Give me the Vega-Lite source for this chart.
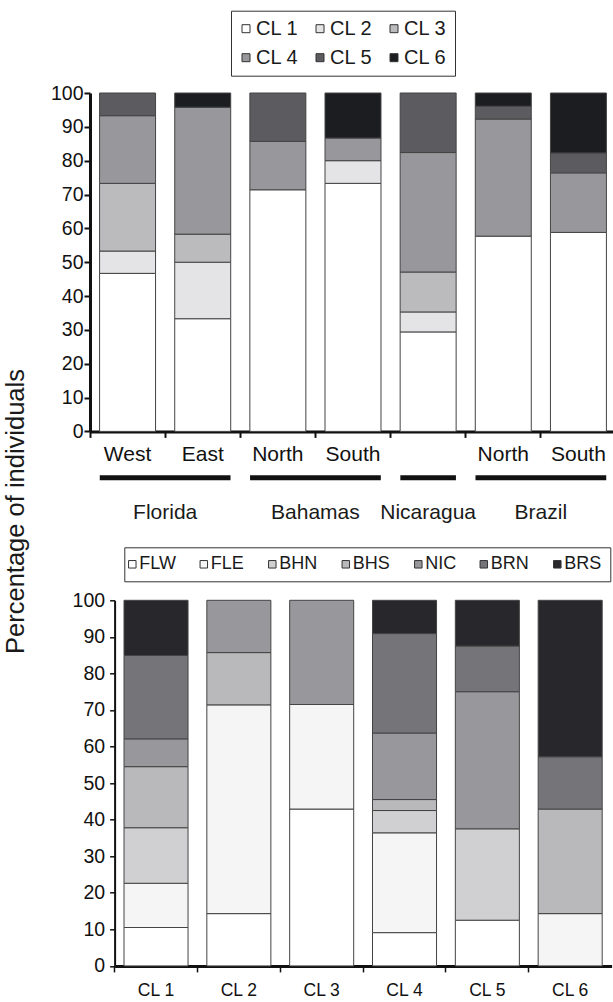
{
  "$schema": "https://vega.github.io/schema/vega-lite/v6.json",
  "padding": {"left": 3, "top": 10, "right": 0, "bottom": 0},
  "background": "white",
  "bounds": "flush",
  "spacing": 168.3,
  "config": {
    "font": "Liberation Sans",
    "view": {"stroke": null},
    "axis": {"grid": false, "domainColor": "#111", "tickColor": "#111", "labelColor": "#111", "labelFont": "Liberation Sans", "titleFont": "Liberation Sans"},
    "legend": {"labelFont": "Liberation Sans", "labelColor": "#1a1a1a"}
  },
  "datasets": {
    "sites": [
      {"site": "FLW", "cl": "CL 1", "pct": 46.7},
      {"site": "FLW", "cl": "CL 2", "pct": 6.6},
      {"site": "FLW", "cl": "CL 3", "pct": 20.0},
      {"site": "FLW", "cl": "CL 4", "pct": 20.0},
      {"site": "FLW", "cl": "CL 5", "pct": 6.7},
      {"site": "FLE", "cl": "CL 1", "pct": 33.3},
      {"site": "FLE", "cl": "CL 2", "pct": 16.7},
      {"site": "FLE", "cl": "CL 3", "pct": 8.3},
      {"site": "FLE", "cl": "CL 4", "pct": 37.5},
      {"site": "FLE", "cl": "CL 6", "pct": 4.2},
      {"site": "BHN", "cl": "CL 1", "pct": 71.4},
      {"site": "BHN", "cl": "CL 4", "pct": 14.3},
      {"site": "BHN", "cl": "CL 5", "pct": 14.3},
      {"site": "BHS", "cl": "CL 1", "pct": 73.3},
      {"site": "BHS", "cl": "CL 2", "pct": 6.7},
      {"site": "BHS", "cl": "CL 4", "pct": 6.7},
      {"site": "BHS", "cl": "CL 6", "pct": 13.3},
      {"site": "NIC", "cl": "CL 1", "pct": 29.4},
      {"site": "NIC", "cl": "CL 2", "pct": 5.9},
      {"site": "NIC", "cl": "CL 3", "pct": 11.8},
      {"site": "NIC", "cl": "CL 4", "pct": 35.3},
      {"site": "NIC", "cl": "CL 5", "pct": 17.6},
      {"site": "BRN", "cl": "CL 1", "pct": 57.7},
      {"site": "BRN", "cl": "CL 4", "pct": 34.6},
      {"site": "BRN", "cl": "CL 5", "pct": 3.8},
      {"site": "BRN", "cl": "CL 6", "pct": 3.9},
      {"site": "BRS", "cl": "CL 1", "pct": 58.8},
      {"site": "BRS", "cl": "CL 4", "pct": 17.6},
      {"site": "BRS", "cl": "CL 5", "pct": 5.9},
      {"site": "BRS", "cl": "CL 6", "pct": 17.7}
    ],
    "groups": [
      {"group": "Florida", "first": "FLW", "last": "FLE"},
      {"group": "Bahamas", "first": "BHN", "last": "BHS"},
      {"group": "Nicaragua", "first": "NIC", "last": "NIC"},
      {"group": "Brazil", "first": "BRN", "last": "BRS"}
    ],
    "clusters": [
      {"cl": "CL 1", "region": "FLW", "pct": 10.5},
      {"cl": "CL 1", "region": "FLE", "pct": 12.1},
      {"cl": "CL 1", "region": "BHN", "pct": 15.2},
      {"cl": "CL 1", "region": "BHS", "pct": 16.7},
      {"cl": "CL 1", "region": "NIC", "pct": 7.6},
      {"cl": "CL 1", "region": "BRN", "pct": 22.8},
      {"cl": "CL 1", "region": "BRS", "pct": 15.1},
      {"cl": "CL 2", "region": "FLW", "pct": 14.3},
      {"cl": "CL 2", "region": "FLE", "pct": 57.1},
      {"cl": "CL 2", "region": "BHS", "pct": 14.3},
      {"cl": "CL 2", "region": "NIC", "pct": 14.3},
      {"cl": "CL 3", "region": "FLW", "pct": 42.9},
      {"cl": "CL 3", "region": "FLE", "pct": 28.6},
      {"cl": "CL 3", "region": "NIC", "pct": 28.5},
      {"cl": "CL 4", "region": "FLW", "pct": 9.1},
      {"cl": "CL 4", "region": "FLE", "pct": 27.3},
      {"cl": "CL 4", "region": "BHN", "pct": 6.1},
      {"cl": "CL 4", "region": "BHS", "pct": 3.0},
      {"cl": "CL 4", "region": "NIC", "pct": 18.2},
      {"cl": "CL 4", "region": "BRN", "pct": 27.2},
      {"cl": "CL 4", "region": "BRS", "pct": 9.1},
      {"cl": "CL 5", "region": "FLW", "pct": 12.5},
      {"cl": "CL 5", "region": "BHN", "pct": 25.0},
      {"cl": "CL 5", "region": "NIC", "pct": 37.5},
      {"cl": "CL 5", "region": "BRN", "pct": 12.5},
      {"cl": "CL 5", "region": "BRS", "pct": 12.5},
      {"cl": "CL 6", "region": "FLE", "pct": 14.3},
      {"cl": "CL 6", "region": "BHS", "pct": 28.6},
      {"cl": "CL 6", "region": "BRN", "pct": 14.3},
      {"cl": "CL 6", "region": "BRS", "pct": 42.8}
    ]
  },
  "resolve": {"scale": {"color": "independent", "x": "independent", "y": "independent"}, "legend": {"color": "independent"}},
  "vconcat": [
    {
      "width": 526,
      "height": 338.4,
      "layer": [
        {
          "data": {"name": "sites"},
          "mark": {"type": "bar", "width": {"band": 0.745}, "stroke": "#444", "strokeWidth": 1},
          "encoding": {
            "x": {
              "field": "site", "type": "nominal",
              "scale": {"domain": ["FLW", "FLE", "BHN", "BHS", "NIC", "BRN", "BRS"], "paddingInner": 0, "paddingOuter": 0},
              "axis": {
                "title": null, "labelAngle": 0, "bandPosition": 0,
                "labelExpr": "datum.value == 'FLW' ? 'West' : datum.value == 'FLE' ? 'East' : (datum.value == 'BHN' || datum.value == 'BRN') ? 'North' : (datum.value == 'BHS' || datum.value == 'BRS') ? 'South' : ''",
                "tickSize": 6, "tickWidth": 2, "domainWidth": 3, "labelPadding": 6, "labelFontSize": 21, "labelBaseline": "top"
              }
            },
            "y": {
              "field": "pct", "type": "quantitative", "stack": "zero",
              "scale": {"domain": [0, 100], "nice": false},
              "axis": {
                "values": [0, 10, 20, 30, 40, 50, 60, 70, 80, 90, 100], "labelOverlap": false,
                "title": "Percentage of individuals",
                "titleX": -62, "titleY": 418, "titleAngle": -90, "titleBaseline": "bottom", "titleAlign": "center",
                "titleFontSize": 25.5, "titleFontWeight": "normal", "titleColor": "#1a1a1a",
                "labelFontSize": 19.5, "tickSize": 6, "tickWidth": 2, "domainWidth": 3, "labelPadding": 1
              }
            },
            "order": {"field": "cl", "sort": "ascending"},
            "color": {
              "field": "cl", "type": "nominal",
              "scale": {"domain": ["CL 1", "CL 2", "CL 3", "CL 4", "CL 5", "CL 6"], "range": ["#ffffff", "#e4e4e6", "#bbbbbe", "#98979b", "#5c5b60", "#1c1d21"]},
              "legend": {
                "orient": "none", "legendX": 141, "legendY": -82.3, "title": null,
                "columns": 3, "direction": "horizontal", "gridAlign": "each",
                "symbolType": "square", "symbolSize": 64, "symbolStrokeColor": "#333", "symbolStrokeWidth": 1, "symbolOffset": -3,
                "labelFontSize": 20, "labelOffset": 0, "columnPadding": 14, "rowPadding": 9, "padding": 8,
                "strokeColor": "#333"
              }
            }
          }
        },
        {
          "data": {"name": "groups"},
          "mark": {"type": "rule", "strokeWidth": 5, "color": "#111", "strokeCap": "butt"},
          "encoding": {
            "x": {
              "field": "first", "type": "nominal", "bandPosition": 0.13,
              "scale": {"domain": ["FLW", "FLE", "BHN", "BHS", "NIC", "BRN", "BRS"], "paddingInner": 0, "paddingOuter": 0},
              "axis": {
                "title": null, "labelAngle": 0, "bandPosition": 0,
                "labelExpr": "datum.value == 'FLW' ? 'West' : datum.value == 'FLE' ? 'East' : (datum.value == 'BHN' || datum.value == 'BRN') ? 'North' : (datum.value == 'BHS' || datum.value == 'BRS') ? 'South' : ''",
                "tickSize": 6, "tickWidth": 2, "domainWidth": 3, "labelPadding": 6, "labelFontSize": 21, "labelBaseline": "top"
              }
            },
            "x2": {"field": "last", "bandPosition": 0.87},
            "y": {
              "datum": -13.7,
              "scale": {"domain": [0, 100], "nice": false},
              "axis": {
                "values": [0, 10, 20, 30, 40, 50, 60, 70, 80, 90, 100], "labelOverlap": false,
                "title": "Percentage of individuals",
                "titleX": -62, "titleY": 418, "titleAngle": -90, "titleBaseline": "bottom", "titleAlign": "center",
                "titleFontSize": 25.5, "titleFontWeight": "normal", "titleColor": "#1a1a1a",
                "labelFontSize": 19.5, "tickSize": 6, "tickWidth": 2, "domainWidth": 3, "labelPadding": 1
              }
            }
          }
        },
        {
          "data": {"name": "groups"},
          "transform": [{"filter": "datum.first != datum.last"}],
          "mark": {"type": "text", "fontSize": 21, "baseline": "alphabetic", "color": "#1a1a1a"},
          "encoding": {
            "x": {
              "field": "last", "type": "nominal", "bandPosition": 0,
              "scale": {"domain": ["FLW", "FLE", "BHN", "BHS", "NIC", "BRN", "BRS"], "paddingInner": 0, "paddingOuter": 0},
              "axis": {
                "title": null, "labelAngle": 0, "bandPosition": 0,
                "labelExpr": "datum.value == 'FLW' ? 'West' : datum.value == 'FLE' ? 'East' : (datum.value == 'BHN' || datum.value == 'BRN') ? 'North' : (datum.value == 'BHS' || datum.value == 'BRS') ? 'South' : ''",
                "tickSize": 6, "tickWidth": 2, "domainWidth": 3, "labelPadding": 6, "labelFontSize": 21, "labelBaseline": "top"
              }
            },
            "y": {
              "datum": -26,
              "scale": {"domain": [0, 100], "nice": false},
              "axis": {
                "values": [0, 10, 20, 30, 40, 50, 60, 70, 80, 90, 100], "labelOverlap": false,
                "title": "Percentage of individuals",
                "titleX": -62, "titleY": 418, "titleAngle": -90, "titleBaseline": "bottom", "titleAlign": "center",
                "titleFontSize": 25.5, "titleFontWeight": "normal", "titleColor": "#1a1a1a",
                "labelFontSize": 19.5, "tickSize": 6, "tickWidth": 2, "domainWidth": 3, "labelPadding": 1
              }
            },
            "text": {"field": "group"}
          }
        },
        {
          "data": {"name": "groups"},
          "transform": [{"filter": "datum.first == datum.last"}],
          "mark": {"type": "text", "fontSize": 21, "baseline": "alphabetic", "color": "#1a1a1a"},
          "encoding": {
            "x": {
              "field": "first", "type": "nominal", "bandPosition": 0.5,
              "scale": {"domain": ["FLW", "FLE", "BHN", "BHS", "NIC", "BRN", "BRS"], "paddingInner": 0, "paddingOuter": 0},
              "axis": {
                "title": null, "labelAngle": 0, "bandPosition": 0,
                "labelExpr": "datum.value == 'FLW' ? 'West' : datum.value == 'FLE' ? 'East' : (datum.value == 'BHN' || datum.value == 'BRN') ? 'North' : (datum.value == 'BHS' || datum.value == 'BRS') ? 'South' : ''",
                "tickSize": 6, "tickWidth": 2, "domainWidth": 3, "labelPadding": 6, "labelFontSize": 21, "labelBaseline": "top"
              }
            },
            "y": {
              "datum": -26,
              "scale": {"domain": [0, 100], "nice": false},
              "axis": {
                "values": [0, 10, 20, 30, 40, 50, 60, 70, 80, 90, 100], "labelOverlap": false,
                "title": "Percentage of individuals",
                "titleX": -62, "titleY": 418, "titleAngle": -90, "titleBaseline": "bottom", "titleAlign": "center",
                "titleFontSize": 25.5, "titleFontWeight": "normal", "titleColor": "#1a1a1a",
                "labelFontSize": 19.5, "tickSize": 6, "tickWidth": 2, "domainWidth": 3, "labelPadding": 1
              }
            },
            "text": {"field": "group"}
          }
        }
      ]
    },
    {
      "width": 521.6,
      "height": 365.6,
      "data": {"name": "clusters"},
      "transform": [{"calculate": "indexof(['FLW','FLE','BHN','BHS','NIC','BRN','BRS'], datum.region)", "as": "stackOrder"}],
      "mark": {"type": "bar", "width": {"band": 0.773}, "stroke": "#444", "strokeWidth": 1},
      "encoding": {
        "x": {
          "field": "cl", "type": "nominal",
          "scale": {"domain": ["CL 1", "CL 2", "CL 3", "CL 4", "CL 5", "CL 6"], "range": [24.6, 521.6], "paddingInner": 0, "paddingOuter": 0},
          "axis": {"title": null, "labelAngle": 0, "bandPosition": 0, "tickSize": 6, "tickWidth": 1.5, "domainWidth": 3, "labelPadding": 10, "labelFontSize": 17.5, "labelBaseline": "top"}
        },
        "y": {
          "field": "pct", "type": "quantitative", "stack": "zero",
          "scale": {"domain": [0, 100], "nice": false},
          "axis": {"title": null, "values": [0, 10, 20, 30, 40, 50, 60, 70, 80, 90, 100], "labelOverlap": false, "offset": -24.6, "labelFontSize": 19.5, "tickSize": 5, "tickWidth": 1.5, "domainWidth": 2, "labelPadding": 5}
        },
        "order": {"field": "stackOrder", "type": "quantitative", "sort": "ascending"},
        "color": {
          "field": "region", "type": "nominal",
          "sort": ["FLW", "FLE", "BHN", "BHS", "NIC", "BRN", "BRS"],
          "scale": {"domain": ["FLW", "FLE", "BHN", "BHS", "NIC", "BRN", "BRS"], "range": ["#ffffff", "#f4f5f4", "#d0d0d2", "#b9b9bc", "#98979b", "#757479", "#28282c"]},
          "legend": {
            "orient": "none", "legendX": 34.3, "legendY": -53, "title": null, "direction": "horizontal", "gridAlign": "each",
            "symbolType": "square", "symbolSize": 56, "symbolStrokeColor": "#333", "symbolStrokeWidth": 1, "symbolOffset": -9,
            "labelFontSize": 18, "labelOffset": -2, "columnPadding": 21.5, "padding": 8,
            "strokeColor": "#333"
          }
        }
      }
    }
  ]
}
